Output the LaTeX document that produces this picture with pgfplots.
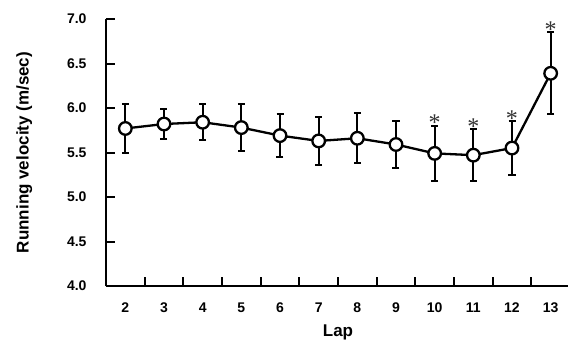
\documentclass[border=0pt]{standalone}
\usepackage{pgfplots}
\pgfplotsset{compat=1.18}
\usepackage{pgfplotstable}
\usepackage{fontspec}
\setmainfont{Liberation Sans}
\newfontfamily\seriffont{Liberation Serif}
\pgfplotstableread{
x y e
2 5.77 0.27
3 5.82 0.17
4 5.84 0.20
5 5.78 0.26
6 5.69 0.24
7 5.63 0.27
8 5.66 0.28
9 5.59 0.26
10 5.49 0.31
11 5.47 0.29
12 5.55 0.30
13 6.39 0.46
}\datatable
\begin{document}
\begin{tikzpicture}
\begin{axis}[
  scale only axis, width=464pt, height=267pt,
  xmin=1.5, xmax=13.5, ymin=4, ymax=7,
  axis x line*=bottom, axis y line*=left,
  axis line style={line width=2.5pt},
  clip=false,
  xtick={1.5,2.5,...,13.5}, x tick label as interval,
  xticklabels={2,3,4,5,6,7,8,9,10,11,12,13},
  xtick pos=bottom, ytick pos=left,
  tick align=inside,
  major tick length=9pt,
  major tick style={line width=2pt, draw=black},
  ytick={4,4.5,...,7},
  /pgf/number format/assume math mode=true,
  tick label style={font=\bfseries\fontsize{14}{16}\selectfont, black},
  xticklabel style={anchor=base, yshift=-26pt},
  yticklabel style={xshift=-16pt, /pgf/number format/.cd, fixed, fixed zerofill, precision=1},
  xlabel={Lap}, ylabel={Running velocity (m/sec)},
  label style={font=\bfseries\fontsize{17}{20}\selectfont},
  xlabel style={at={(axis description cs:0.5,-0.191)}, anchor=base},
  ylabel style={at={(axis description cs:-0.176,0.5)}, anchor=center},
]
\addplot[black, line width=2.3pt, mark=*, mark size=6.3pt,
  mark options={fill=white, line width=2.3pt},
  error bars/.cd, y dir=both, y explicit,
  error bar style={line width=2pt, black},
  error mark options={rotate=90, mark size=3.5pt, line width=2pt}]
  table[x=x, y=y, y error=e] {\datatable};
\addplot[draw=none, mark=none, nodes near coords={\seriffont\fontsize{24}{24}\selectfont *},
  every node near coord/.style={anchor=center, yshift=3pt, text=black!80}]
  coordinates {(10,5.80) (11,5.76) (12,5.85) (13,6.85)};
\end{axis}
\pgfresetboundingbox
\path ([shift={(-106pt,-63pt)}]current axis.south west) rectangle ([shift={(462pt,286pt)}]current axis.south west);
\end{tikzpicture}
\end{document}
